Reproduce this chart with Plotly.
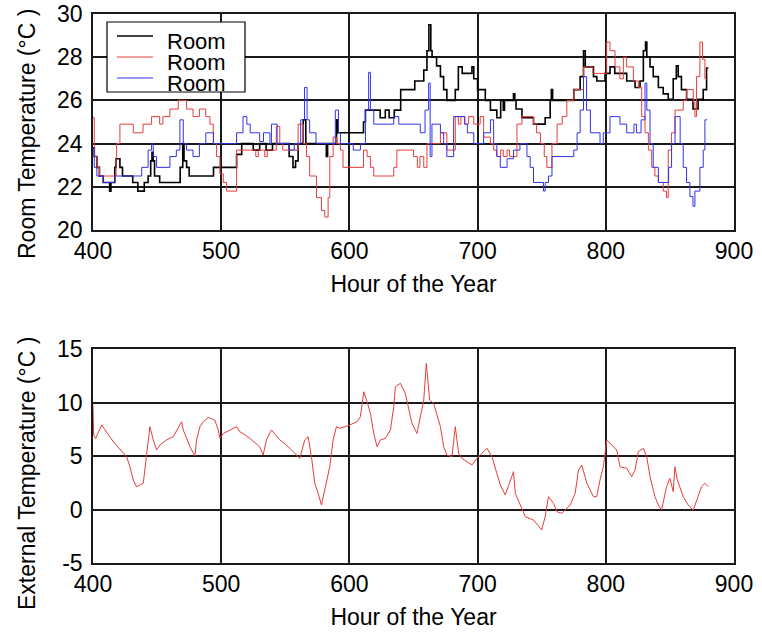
import plotly.graph_objects as go

# ---------------- data (hour of year, temperature in °C) ----------------
black_hours = [400, 401, 403, 405, 408, 413, 414, 417, 418, 421, 423, 431, 435, 440, 443, 445, 446, 447, 448, 452,
               468, 470, 471, 473, 475, 494, 512, 516, 525, 530, 535, 540, 553, 556, 558, 560, 564, 566, 582, 583,
               590, 591, 611, 612.5, 624, 628, 631, 635, 640, 651, 658, 660.5, 662, 663.5, 664.5, 668, 671, 673.5,
               676, 682.6, 685, 688, 695.6, 697, 700, 706, 710, 715, 718, 720, 721, 728, 729, 730, 734.6, 743.6,
               752.7, 756.6, 757.5, 758.5, 775, 780, 782.6, 784, 790.4, 793, 799.4, 803.3, 807, 816.3, 822.8, 826.7,
               829.3, 831, 832, 834.5, 837, 841, 844.8, 848.7, 852.6, 855, 856.5, 859, 863, 868, 872, 876, 878.6, 880]
black_temp = [23.8, 23.4, 22.9, 22.5, 22.2, 21.8, 22.2, 22.9, 23.3, 22.9, 22.5, 22.2, 21.8, 22.2, 22.5, 23.2, 23.6, 23.2, 22.5, 22.2,
              22.9, 24.0, 23.2, 22.9, 22.5, 22.9, 23.5, 24.0, 23.7, 24.0, 23.7, 24.0, 23.4, 22.9, 23.2, 24.0, 25.1, 24.0, 23.4, 24.0,
              25.1, 24.5, 25.0, 25.55, 25.2, 25.55, 25.2, 25.55, 26.5, 26.9, 27.4, 28.3, 29.5, 28.3, 28.0, 27.6, 27.1, 26.5,
              26.0, 26.5, 27.55, 27.25, 27.55, 27.0, 26.5, 26.0, 25.55, 25.2, 26.0, 25.55, 26.0, 26.3, 26.0, 25.6, 25.2, 24.9,
              25.2, 26.0, 26.5, 26.0, 26.5, 27.1, 28.3, 27.55, 27.1, 26.9, 27.25, 27.55, 27.25, 26.9, 26.6, 26.9,
              28.3, 28.7, 28.0, 27.55, 27.1, 26.6, 26.3, 26.05, 27.0, 27.6, 27.1, 26.5, 26.05, 25.6, 26.05, 26.5, 27.5, 27.5]

red_hours = [400, 401, 403, 405, 418, 418.4, 421, 431.4, 439, 445.7, 452, 454.5, 460, 466.5, 473, 478, 483, 488, 491.2,
             493.8, 496.4, 499, 501.6, 504.2, 512, 527, 529, 534, 536, 543, 545.7, 548, 560, 564, 566.5, 569, 574.3,
             578.2, 580.8, 583.4, 584.7, 587.3, 590, 593, 595, 611, 613.8, 616.4, 619, 634.6, 637, 650, 653, 655, 658,
             660.5, 671, 676, 682.6, 685, 687, 690, 693, 697, 702, 704.7, 710, 712.5, 715, 718, 720, 723, 725, 730.7,
             734.6, 743.6, 746, 749, 752, 754, 758, 762, 766, 769.6, 775, 782.6, 790, 800.7, 803.3, 807.2, 811, 813.7,
             816.3, 821.5, 825.4, 828, 830.6, 833.2, 835.8, 838.3, 841, 844.8, 847.4, 848.7, 851.3, 854, 860.4, 863,
             868.2, 869.5, 870.8, 873.4, 875.5, 877.3, 879]
red_temp = [25.2, 23.4, 22.9, 22.5, 23.4, 24.0, 24.9, 24.5, 24.9, 25.25, 24.9, 25.25, 25.6, 26.0, 25.6, 25.25, 25.6, 25.25, 24.9,
            24.0, 23.4, 22.6, 22.2, 21.8, 23.7, 23.4, 23.7, 23.4, 23.7, 24.8, 24.0, 23.7, 24.9, 24.0, 23.4, 22.5, 21.5,
            20.9, 20.6, 21.5, 23.4, 24.3, 24.0, 23.7, 22.9, 23.7, 23.4, 22.9, 22.5, 22.9, 23.7, 23.4, 22.9, 23.4, 22.9,
            24.0, 24.5, 23.7, 25.25, 24.9, 25.25, 24.9, 25.25, 24.9, 25.25, 24.3, 24.0, 23.7, 23.4, 23.7, 23.4, 23.7, 23.4, 24.9,
            25.25, 24.9, 24.5, 24.0, 23.4, 22.9, 24.0, 24.9, 25.25, 26.0, 26.5, 27.55, 27.25, 28.7, 28.3, 27.55, 27.0, 28.0,
            27.55, 26.9, 26.6, 25.25, 24.5, 23.7, 22.9, 22.5, 22.2, 21.8, 21.5, 23.7, 24.5, 25.55, 26.0, 26.5,
            25.9, 25.25, 27.1, 28.7, 27.9, 27.0, 27.0]

blue_hours = [400, 401, 403, 408, 417, 438, 443, 445.7, 447, 449.6, 460, 465, 467.8, 470.4, 473, 478, 483, 488, 494,
              512, 517, 520, 522.6, 530, 533, 538, 539.2, 543.6, 553, 557, 562, 565, 567, 569, 574, 589, 591.5, 593,
              603, 608.6, 612.5, 615, 616.4, 619, 634.6, 638.5, 655.3, 659, 661.8, 663, 664.4, 671, 673.5, 676, 681.3,
              690, 692, 697, 704.7, 710, 712.5, 715, 717.7, 723, 728, 733, 738.5, 741, 743.6, 751.4, 752.7, 755.3, 758,
              775, 777.6, 780, 782.6, 785, 788, 795.5, 798, 803.3, 811, 816.3, 822, 824, 827.5, 830.6, 832, 834.5, 837,
              841, 849, 851.3, 854, 858, 860.4, 863, 865.6, 868, 869.5, 873.4, 876, 877.3, 879]
blue_temp = [23.8, 22.9, 22.5, 22.2, 22.5, 22.9, 23.7, 24.0, 23.4, 22.9, 23.4, 23.7, 25.1, 24.0, 23.7, 23.4, 24.0, 24.5, 24.0,
             24.5, 25.25, 24.9, 24.5, 24.1, 24.5, 24.0, 24.9, 24.0, 23.7, 24.0, 25.1, 26.6, 25.1, 24.5, 24.0, 25.55, 24.5, 24.0,
             23.7, 24.0, 25.55, 27.3, 25.55, 24.9, 25.25, 24.9, 24.5, 25.55, 26.8, 23.4, 24.9, 24.5, 24.0, 23.4, 25.25,
             24.9, 24.5, 24.0, 24.5, 25.1, 24.0, 23.4, 22.9, 23.3, 23.7, 24.0, 23.4, 22.9, 22.2, 21.8, 22.2, 22.5, 23.4,
             23.7, 24.5, 25.55, 27.1, 25.55, 24.5, 24.0, 24.5, 25.25, 24.9, 24.5, 24.9, 24.5, 25.1, 26.8, 25.55, 24.0, 22.9,
             22.2, 22.9, 24.0, 25.25, 24.0, 22.9, 22.2, 21.55, 21.1, 21.8, 22.9, 23.7, 25.1, 25.1]

ext_hours = [400, 400.5, 402, 403, 405, 406.8, 409.4, 413.2, 415.8, 426.2, 428.8, 431.4, 434, 439.2, 440.5, 443.1, 444.4,
             447, 449.6, 452.2, 457.4, 462.6, 466.5, 469.1, 470.4, 475.6, 479.5, 480.8, 483.4, 486, 489.9, 495, 497.7,
             499, 501.6, 506.8, 512, 514.5, 517, 522.3, 530, 532.7, 535.3, 539.2, 545.7, 550.9, 556.1, 561.3, 565.2,
             567.8, 570.4, 573, 575.6, 578.2, 584.7, 587.3, 589.9, 592.5, 598.2, 606, 608.6, 611.2, 613.8, 616.4, 619,
             621.6, 624.2, 628, 632, 634.6, 635.9, 639.8, 643.6, 646.2, 648.8, 652.7, 658, 660, 662.6, 665.7, 671,
             673.5, 676, 680, 682.6, 685.2, 687.8, 695.6, 699.5, 707.3, 711.2, 715, 717.7, 721.6, 728, 729.4, 734.6,
             737.2, 743.6, 750, 752.7, 755.3, 759.2, 761.8, 765.7, 772.2, 776.1, 778.7, 781.3, 785.2, 790.4, 792.9,
             795.5, 798.1, 800.7, 808.5, 811.1, 816.3, 820.2, 822.8, 825.4, 829.3, 831.9, 834.5, 838.3, 841, 843.5,
             847.4, 850, 852.6, 853.9, 855.8, 860.4, 864.3, 868.2, 872.1, 874.7, 877.3, 879.9]
ext_temp = [9.8, 6.96, 6.65, 6.96, 7.43, 7.9, 7.43, 6.8, 6.34, 4.94, 4.0, 2.76, 2.13, 2.45, 3.69, 6.5, 7.74,
            6.5, 5.56, 6.03, 6.5, 6.8, 7.59, 8.2, 7.43, 5.87, 5.0, 6.5, 7.74, 8.2, 8.6, 8.36, 7.43,
            6.65, 7.1, 7.43, 7.74, 7.27, 7.1, 6.65, 5.87, 5.09, 6.5, 7.43, 6.5, 6.03, 5.4, 4.78, 6.5,
            6.8, 4.94, 2.45, 1.51, 0.42, 4.0, 6.5, 7.74, 7.59, 7.8, 8.2, 8.68, 11.0, 10.08, 8.99, 7.1,
            5.87, 6.5, 6.65, 7.43, 9.6, 11.48, 11.8, 10.86, 9.6, 8.05, 7.1, 10.23, 13.66, 10.23, 9.92, 7.74,
            5.87, 5.09, 4.94, 7.74, 5.25, 4.78, 4.16, 4.78, 5.72, 4.94, 3.38, 2.29, 1.36, 3.54, 1.51, -0.05,
            -0.67, -0.98, -1.92, -0.67, 1.2, 0.58, -0.2, -0.36, 0.42, 1.51, 3.69, 4.16, 2.45, 1.2, 1.2,
            2.76, 4.0, 6.5, 5.56, 4.0, 3.85, 3.07, 3.69, 5.4, 5.72, 4.94, 3.07, 1.2, 0.42, -0.05,
            2.13, 2.91, 1.67, 4.0, 2.76, 1.2, 0.42, -0.05, 1.2, 2.13, 2.45, 2.13]

x_ticks = [400, 500, 600, 700, 800, 900]
x_ticktext = ["400", "500", "600", "700", "800", "900"]
room_ticks = [20, 22, 24, 26, 28, 30]
room_ticktext = ["20", "22", "24", "26", "28", "30"]
ext_ticks = [-5, 0, 5, 10, 15]
ext_ticktext = ["-5", "0", "5", "10", "15"]

x_title = "Hour of the Year"
room_title = "Room Temperature (°C )"
ext_title = "External Temperature (°C )"

series_names = ["Room", "Room", "Room"]
series_colors = ["black", "rgb(232,60,60)", "rgb(50,50,235)"]
series_widths = [1.6, 1, 1]

# ---------------- figure ----------------
FONT = "Liberation Sans, Arial, Helvetica, sans-serif"
FS = 23
W, H = 762, 637
ML, MR, MT, MB = 93, 28, 14, 74
PW, PH = W - ML - MR, H - MT - MB


def px_x(px):
    return (px - ML) / PW


def px_y(py):
    return 1 - (py - MT) / PH


fig = go.Figure()
room_series = [(black_hours, black_temp), (red_hours, red_temp), (blue_hours, blue_temp)]
for (hx, hy), nm, col, wd in zip(room_series, series_names, series_colors, series_widths):
    fig.add_trace(go.Scatter(x=hx, y=hy, name=nm, mode="lines", showlegend=False,
                             line=dict(color=col, width=wd, shape="hv"), xaxis="x", yaxis="y"))
fig.add_trace(go.Scatter(x=ext_hours, y=ext_temp, name="External", mode="lines", showlegend=False,
                         line=dict(color="rgb(232,60,60)", width=1, shape="linear"), xaxis="x2", yaxis="y2"))

axis_common = dict(showgrid=True, gridcolor="#1a1a1a", gridwidth=1.5, showline=True, mirror=True,
                   linecolor="#1a1a1a", linewidth=1.5, ticks="", zeroline=False, automargin=False,
                   tickfont=dict(family=FONT, size=FS, color="black"))

fig.update_layout(
    width=W, height=H,
    margin=dict(l=ML, r=MR, t=MT, b=MB),
    paper_bgcolor="white", plot_bgcolor="white",
    font=dict(family=FONT, size=FS, color="black"),
    xaxis=dict(axis_common, range=[400, 900], tickvals=x_ticks, ticktext=x_ticktext, anchor="y",
               title=dict(text=x_title, font=dict(family=FONT, size=FS), standoff=13)),
    yaxis=dict(axis_common, range=[20, 30], tickvals=room_ticks, ticktext=room_ticktext,
               domain=[px_y(230), 1], anchor="x", ticklabelstandoff=4),
    xaxis2=dict(axis_common, range=[400, 900], tickvals=x_ticks, ticktext=x_ticktext, anchor="y2",
                title=dict(text=x_title, font=dict(family=FONT, size=FS), standoff=13)),
    yaxis2=dict(axis_common, range=[-5, 15], tickvals=ext_ticks, ticktext=ext_ticktext,
                domain=[0, px_y(349)], anchor="x2", ticklabelstandoff=4),
    showlegend=False,
)

# legend box (drawn in paper coordinates)
shapes = [dict(type="rect", xref="paper", yref="paper", x0=px_x(107), x1=px_x(245), y0=px_y(92), y1=px_y(22),
               line=dict(color="black", width=1.2), fillcolor="white", layer="above")]
annotations = []
line_rows = [36, 57, 78]
text_rows = [41, 62, 83]
for nm, col, wd, ly, ty in zip(series_names, series_colors, series_widths, line_rows, text_rows):
    shapes.append(dict(type="line", xref="paper", yref="paper", x0=px_x(117), x1=px_x(153), y0=px_y(ly), y1=px_y(ly),
                       line=dict(color=col, width=wd), layer="above"))
    annotations.append(dict(text=nm, xref="paper", yref="paper", x=px_x(165), y=px_y(ty), xanchor="left",
                            yanchor="middle", showarrow=False, height=20, valign="middle",
                            font=dict(family=FONT, size=22, color="black")))

# y-axis titles as rotated annotations
annotations.append(dict(text=room_title, xref="paper", yref="paper", x=px_x(27), y=px_y(134),
                        xanchor="center", yanchor="middle", textangle=-90, showarrow=False,
                        font=dict(family=FONT, size=FS, color="black")))
annotations.append(dict(text=ext_title, xref="paper", yref="paper", x=px_x(27), y=px_y(474),
                        xanchor="center", yanchor="middle", textangle=-90, showarrow=False,
                        font=dict(family=FONT, size=FS, color="black")))
fig.update_layout(shapes=shapes, annotations=annotations)

fig.write_html("out.html")
